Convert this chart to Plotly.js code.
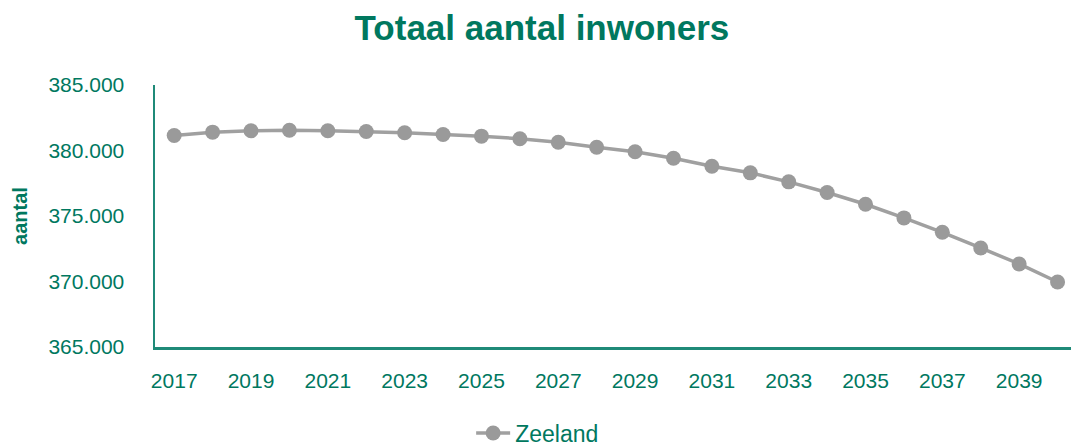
<!DOCTYPE html>
<html>
<head>
<meta charset="utf-8">
<script src="https://cdn.plot.ly/plotly-3.0.1.min.js"></script>
<style>html,body{margin:0;padding:0;background:#fff;}#chart{width:1071px;height:447px;}</style>
</head>
<body>
<div id="chart"></div>
<script>
const years = [2017,2018,2019,2020,2021,2022,2023,2024,2025,2026,2027,2028,2029,2030,2031,2032,2033,2034,2035,2036,2037,2038,2039,2040];
const zeeland = [381150,381400,381505,381550,381505,381450,381355,381225,381095,380895,380635,380250,379900,379410,378800,378295,377605,376790,375895,374855,373755,372560,371340,369960];
const seriesName = 'Zeeland';
const chartTitle = 'Totaal aantal inwoners';
const yTitle = 'aantal';

const teal = '#00785F';
const axisTeal = '#1F8A78';
const font = 'Liberation Sans, Arial, sans-serif';

Plotly.newPlot('chart', [{
  x: years, y: zeeland, name: seriesName, type: 'scatter', mode: 'lines+markers',
  line: {color: '#A0A0A0', width: 3.5},
  marker: {color: '#9A9A9A', size: 15},
  showlegend: true
}], {
  width: 1071, height: 447,
  paper_bgcolor: '#fff', plot_bgcolor: '#fff',
  separators: ',.',
  margin: {l: 155, r: 0, t: 85, b: 100},
  title: {text: '<b>' + chartTitle + '</b>', font: {family: font, size: 35, color: teal},
          x: 0.506, xanchor: 'center', xref: 'container', y: 1 - 28/447, yanchor: 'middle', yref: 'container'},
  xaxis: {range: [2016.5, 2040.35], tick0: 2017, dtick: 2, tickformat: 'd',
          showline: true, linecolor: axisTeal, linewidth: 2.5, showgrid: false, zeroline: false,
          ticks: '', ticklabelstandoff: 13,
          tickfont: {family: font, size: 21, color: teal}},
  yaxis: {range: [365000, 385000], dtick: 5000, tickformat: ',d',
          showline: true, linecolor: axisTeal, linewidth: 2.5, showgrid: false, zeroline: false,
          ticks: '', ticklabelstandoff: 24,
          tickfont: {family: font, size: 21, color: teal},
          title: {text: '<b>' + yTitle + '</b>', font: {family: font, size: 20, color: teal}, standoff: 16}},
  legend: {orientation: 'h', xref: 'container', yref: 'container', x: 0.502, xanchor: 'center', y: 1 - 433/447, yanchor: 'middle',
           font: {family: font, size: 23, color: teal}, itemwidth: 34}
}, {displayModeBar: false, staticPlot: true});
</script>
</body>
</html>
